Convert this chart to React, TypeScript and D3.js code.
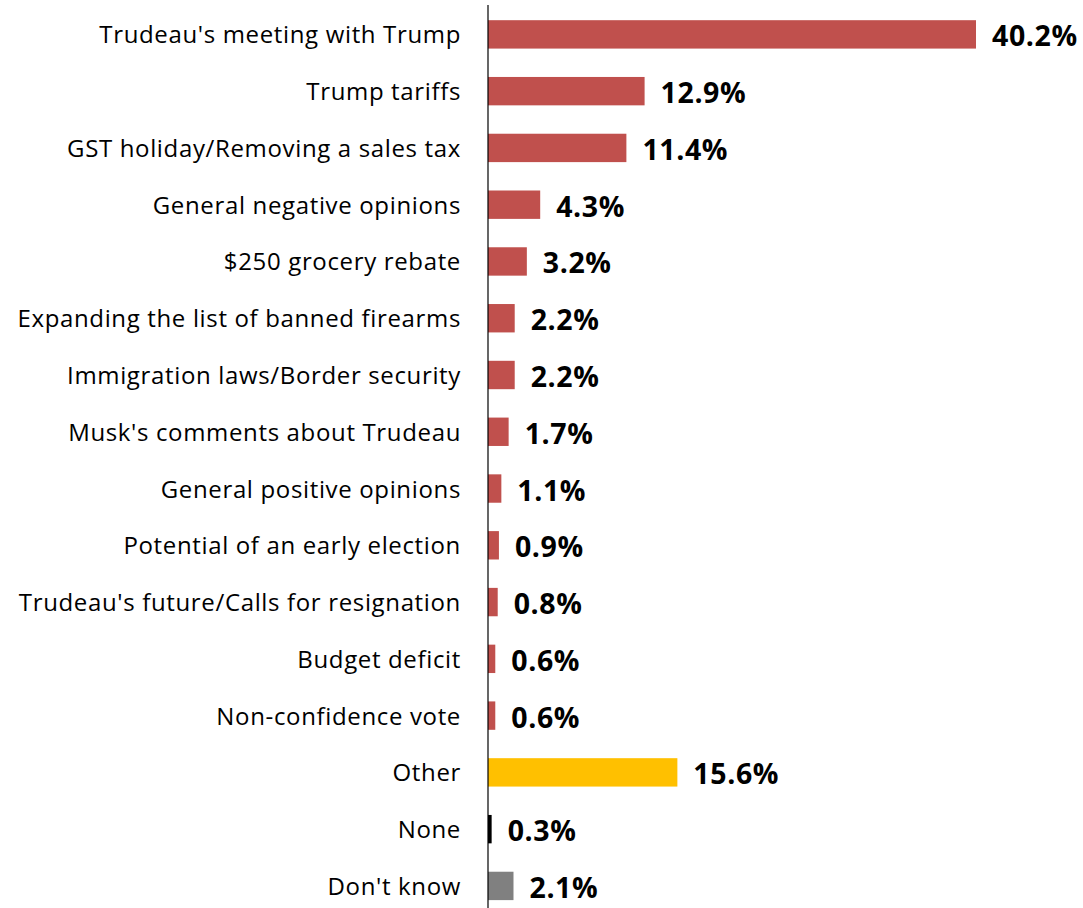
import React from "react";
import * as d3 from "d3";

const categories = [
  "Trudeau's meeting with Trump",
  "Trump tariffs",
  "GST holiday/Removing a sales tax",
  "General negative opinions",
  "$250 grocery rebate",
  "Expanding the list of banned firearms",
  "Immigration laws/Border security",
  "Musk's comments about Trudeau",
  "General positive opinions",
  "Potential of an early election",
  "Trudeau's future/Calls for resignation",
  "Budget deficit",
  "Non-confidence vote",
  "Other",
  "None",
  "Don't know",
];
const values = [40.2, 12.9, 11.4, 4.3, 3.2, 2.2, 2.2, 1.7, 1.1, 0.9, 0.8, 0.6, 0.6, 15.6, 0.3, 2.1];
const valueLabels = ["40.2%", "12.9%", "11.4%", "4.3%", "3.2%", "2.2%", "2.2%", "1.7%", "1.1%", "0.9%", "0.8%", "0.6%", "0.6%", "15.6%", "0.3%", "2.1%"];
const colors = ["#C0504D", "#C0504D", "#C0504D", "#C0504D", "#C0504D", "#C0504D", "#C0504D", "#C0504D", "#C0504D", "#C0504D", "#C0504D", "#C0504D", "#C0504D", "#FFC000", "#000000", "#808080"];

const W = 1083;
const H = 908;
const axisX = 488;

export default function App() {
  const x = d3.scaleLinear().domain([0, 40.2]).range([axisX, 976]);
  const y = d3
    .scaleBand<string>()
    .domain(categories)
    .range([6, 914.3])
    .paddingInner(0.5)
    .paddingOuter(0.25);
  const font = "'Open Sans', sans-serif";
  return (
    <svg
      width={W}
      height={H}
      style={{ position: "absolute", left: 0, top: 0, display: "block", background: "#fff" }}
    >
      {categories.map((c, i) => {
        const yy = y(c)!;
        const bw = y.bandwidth();
        const cy = yy + bw / 2;
        return (
          <g key={c}>
            <rect x={axisX} y={yy} width={x(values[i]) - axisX} height={bw} fill={colors[i]} />
            <text
              x={461}
              y={cy + 9}
              textAnchor="end"
              fontFamily={font}
              fontSize={24}
              letterSpacing={0.65}
              fill="#000"
            >
              {c}
            </text>
            <text
              x={x(values[i]) + 16}
              y={cy + 12}
              fontFamily={font}
              fontWeight="bold"
              fontSize={28.5}
              letterSpacing={0.6}
              fill="#000"
            >
              {valueLabels[i]}
            </text>
          </g>
        );
      })}
      <line x1={axisX} x2={axisX} y1={5} y2={H} stroke="#000" strokeWidth={1.2} />
    </svg>
  );
}
